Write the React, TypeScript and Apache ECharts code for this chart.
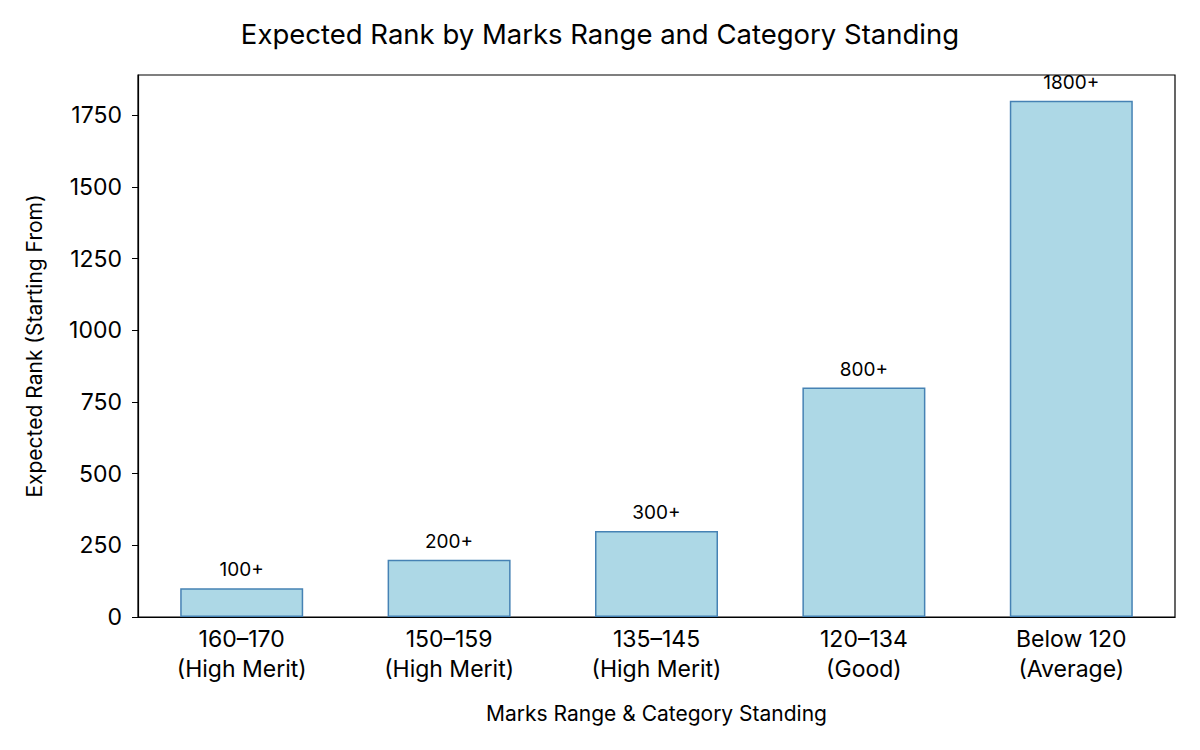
import React, { useEffect, useRef } from 'react'
import * as echarts from 'echarts'

const categories = [
  '160–170\n(High Merit)',
  '150–159\n(High Merit)',
  '135–145\n(High Merit)',
  '120–134\n(Good)',
  'Below 120\n(Average)',
]
const rankValues = [100, 200, 300, 800, 1800]
const rankLabels = ['100+', '200+', '300+', '800+', '1800+']
const yTicks = [0, 250, 500, 750, 1000, 1250, 1500, 1750]

const FONT = 'Inter, "Noto Sans", sans-serif'

export default function App() {
  const chartRef = useRef<HTMLDivElement>(null)

  useEffect(() => {
    const chart = echarts.init(chartRef.current, null, { renderer: 'svg' })
    chart.setOption({
      animation: false,
      textStyle: { fontFamily: FONT },
      title: {
        text: 'Expected Rank by Marks Range and Category Standing',
        left: 'center',
        top: 7,
        textStyle: { fontFamily: FONT, fontSize: 27.5, fontWeight: 'normal', color: '#000' },
      },
      grid: { left: 130, right: 17, top: 67, bottom: 125, show: true, borderColor: '#000', borderWidth: 1.2 },
      xAxis: {
        type: 'category',
        data: categories,
        name: 'Marks Range & Category Standing',
        nameLocation: 'middle',
        nameGap: 86,
        nameTextStyle: { fontFamily: FONT, fontSize: 21, color: '#000' },
        axisLine: { lineStyle: { color: '#000', width: 1.2 } },
        axisTick: { alignWithLabel: true, length: 6, lineStyle: { color: '#000' } },
        axisLabel: { fontFamily: FONT, fontSize: 23, color: '#000', margin: 7, lineHeight: 30 },
      },
      yAxis: {
        type: 'value',
        min: 0,
        max: 1890,
        interval: 250,
        name: 'Expected Rank (Starting From)',
        nameLocation: 'middle',
        nameGap: 93,
        nameTextStyle: { fontFamily: FONT, fontSize: 21, color: '#000' },
        axisLine: { show: true, lineStyle: { color: '#000', width: 1.2 } },
        axisTick: { show: true, length: 6, lineStyle: { color: '#000' } },
        splitLine: { show: false },
        axisLabel: {
          fontFamily: FONT,
          fontSize: 23,
          color: '#000',
          margin: 16,
          showMaxLabel: false,
          formatter: (v: number) => (yTicks.includes(v) ? String(v) : ''),
        },
      },
      series: [
        {
          type: 'bar',
          data: rankValues,
          barWidth: 123,
          itemStyle: { color: '#ADD8E6', borderColor: '#4682B4', borderWidth: 1.5 },
          label: {
            show: true,
            position: 'top',
            distance: 9,
            fontFamily: FONT,
            fontSize: 19,
            color: '#000',
            formatter: (p: any) => rankLabels[p.dataIndex],
          },
        },
      ],
    })
    return () => chart.dispose()
  }, [])

  return <div ref={chartRef} style={{ width: 1184, height: 734 }} />
}
